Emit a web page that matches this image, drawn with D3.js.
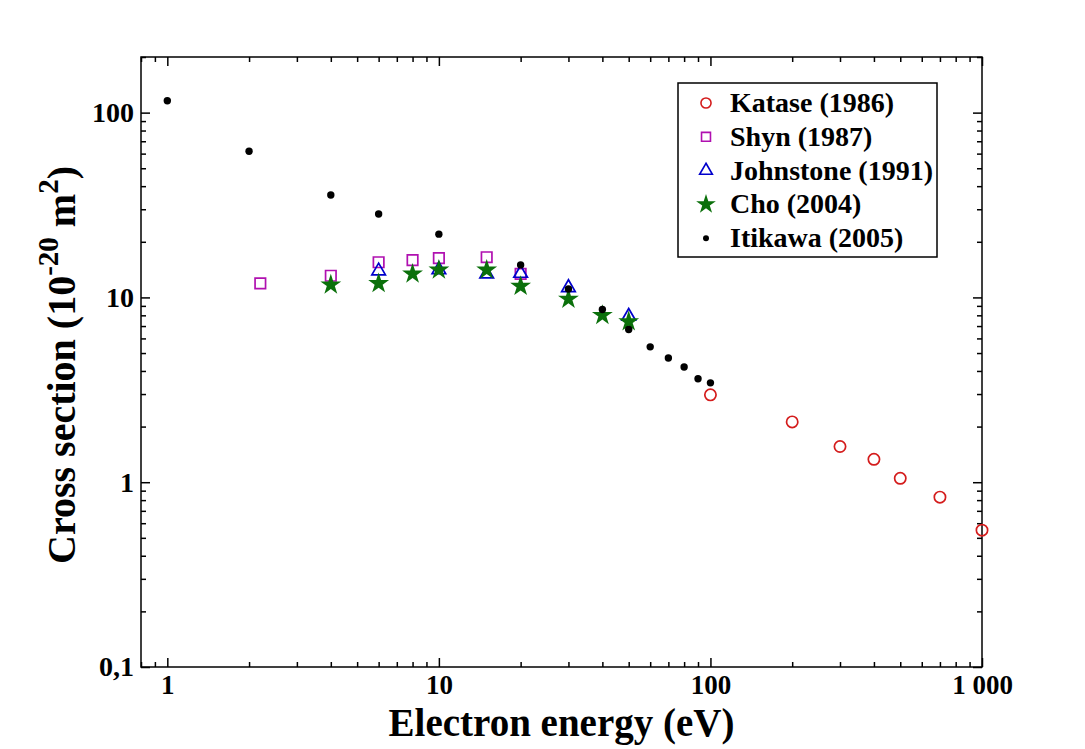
<!DOCTYPE html>
<html>
<head>
<meta charset="utf-8">
<script src="https://cdn.jsdelivr.net/npm/d3@7"></script>
<style>
  body { margin: 0; background: #fff; }
  text { font-family: "Liberation Serif", "Times New Roman", serif; font-weight: bold; }
</style>
</head>
<body>
<script>
// data (energy in eV, cross section in 1e-20 m2)
let katE = [100, 200, 300, 400, 500, 700, 1000];
let katQ = [2.97, 2.12, 1.56, 1.33, 1.05, 0.83, 0.55];

let shynE = [2.2, 4, 6, 8, 10, 15, 20];
let shynQ = [11.9, 13.1, 15.5, 15.9, 16.3, 16.5, 13.4];

let johnE = [6, 10, 15, 20, 30, 50];
let johnQ = [13.9, 14.1, 13.4, 13.5, 11.3, 7.9];

let choE = [4, 6, 8, 10, 15, 20, 30, 40, 50];
let choQ = [11.7, 11.9, 13.4, 14.1, 14.1, 11.5, 9.8, 8.0, 7.4];

let itiE = [1, 2, 4, 6, 10, 20, 30, 40, 50, 60, 70, 80, 90, 100];
let itiQ = [116, 61.8, 35.8, 28.3, 22.0, 15.0, 11.1, 8.6, 6.7, 5.4, 4.7, 4.2, 3.63, 3.45];

let seriesNames = ['Katase (1986)', 'Shyn (1987)', 'Johnstone (1991)', 'Cho (2004)', 'Itikawa (2005)'];

let xTicks = [1, 10, 100, 1000];
let xTickLabels = ['1', '10', '100', '1 000'];
let yTicks = [0.1, 1, 10, 100];
let yTickLabels = ['0,1', '1', '10', '100'];

let width = 1085;
let height = 749;
let margin = { left: 141, right: 103, top: 57, bottom: 82 };
let w = width - margin.left - margin.right;
let h = height - margin.top - margin.bottom;

let x = d3.scaleLog().domain([0.8, 1000]).range([0, w]);
let y = d3.scaleLog().domain([0.1, 200]).range([h, 0]);

let svg = d3.select('body').append('svg').attr('width', width).attr('height', height);
let g = svg.append('g').attr('transform', 'translate(' + margin.left + ',' + margin.top + ')');

// minor ticks: every 1..9 inside the domain, not on the decades
let xMinor = x.ticks().filter(function (d) { return xTicks.indexOf(d) < 0; });
let yMinor = y.ticks().filter(function (d) { return yTicks.indexOf(d) < 0; });

function drawAxis(gen, transform, values, size, labels) {
  let a = gen.tickValues(values).tickSize(size).tickSizeOuter(0)
    .tickFormat(function (d, i) { return labels ? labels[i] : ''; });
  let sel = g.append('g').attr('transform', transform).call(a);
  sel.select('.domain').remove();
  sel.selectAll('line').attr('stroke', '#000').attr('stroke-width', 1.5);
  return sel;
}

// major ticks with labels
let bx = drawAxis(d3.axisBottom(x).tickPadding(8), 'translate(0,' + h + ')', xTicks, -9, xTickLabels);
bx.selectAll('text').attr('font-size', 27).attr('fill', '#000');
let ly = drawAxis(d3.axisLeft(y).tickPadding(7), 'translate(0,0)', yTicks, -9, yTickLabels);
ly.selectAll('text').attr('font-size', 28).attr('fill', '#000');
drawAxis(d3.axisTop(x), 'translate(0,0)', xTicks, -9);
drawAxis(d3.axisRight(y), 'translate(' + w + ',0)', yTicks, -9);
// minor ticks
drawAxis(d3.axisBottom(x), 'translate(0,' + h + ')', xMinor, -5);
drawAxis(d3.axisTop(x), 'translate(0,0)', xMinor, -5);
drawAxis(d3.axisLeft(y), 'translate(0,0)', yMinor, -5);
drawAxis(d3.axisRight(y), 'translate(' + w + ',0)', yMinor, -5);

// frame
g.append('rect').attr('width', w).attr('height', h)
  .attr('fill', 'none').attr('stroke', '#000').attr('stroke-width', 1.5);

let red = '#d41c1c', magenta = '#b010b0', blue = '#0000cc', green = '#0b700b';

let circle = d3.symbol().type(d3.symbolCircle).size(100);
let square = d3.symbol().type(d3.symbolSquare).size(110);
let triangle = d3.symbol().type(d3.symbolTriangle).size(80);
let star = d3.symbol().type(d3.symbolStar).size(135);

function plotSymbols(xs, ys, path, fill, stroke) {
  g.append('g').selectAll('path').data(xs).join('path')
    .attr('transform', function (d, i) { return 'translate(' + x(d) + ',' + y(ys[i]) + ')'; })
    .attr('d', path)
    .attr('fill', fill)
    .attr('stroke', stroke)
    .attr('stroke-width', stroke === 'none' ? 0 : 1.7);
}

plotSymbols(katE, katQ, circle, 'none', red);
plotSymbols(shynE, shynQ, square, 'none', magenta);
plotSymbols(johnE, johnQ, triangle, 'none', blue);
plotSymbols(choE, choQ, star, green, 'none');

g.append('g').selectAll('circle').data(itiE).join('circle')
  .attr('cx', function (d) { return x(d); })
  .attr('cy', function (d, i) { return y(itiQ[i]); })
  .attr('r', 3.7)
  .attr('fill', '#000');

// legend
let legend = svg.append('g').attr('transform', 'translate(678,83)');
legend.append('rect').attr('width', 259).attr('height', 174)
  .attr('fill', '#fff').attr('stroke', '#000').attr('stroke-width', 1.5);

let legSyms = [
  { path: d3.symbol().type(d3.symbolCircle).size(80)(), fill: 'none', stroke: red },
  { path: d3.symbol().type(d3.symbolSquare).size(80)(), fill: 'none', stroke: magenta },
  { path: d3.symbol().type(d3.symbolTriangle).size(70)(), fill: 'none', stroke: blue },
  { path: d3.symbol().type(d3.symbolStar).size(120)(), fill: green, stroke: 'none' },
  { path: d3.symbol().type(d3.symbolCircle).size(28)(), fill: '#000', stroke: 'none' }
];

let rows = legend.selectAll('g.row').data(seriesNames).join('g')
  .attr('class', 'row')
  .attr('transform', function (d, i) { return 'translate(0,' + (20 + i * 33.8) + ')'; });

rows.append('path')
  .attr('transform', 'translate(28,0)')
  .attr('d', function (d, i) { return legSyms[i].path; })
  .attr('fill', function (d, i) { return legSyms[i].fill; })
  .attr('stroke', function (d, i) { return legSyms[i].stroke; })
  .attr('stroke-width', 1.6);

rows.append('text')
  .attr('x', 52)
  .attr('y', 9)
  .attr('font-size', 28)
  .text(function (d) { return d; });

// axis titles
svg.append('text')
  .attr('x', margin.left + w / 2)
  .attr('y', 736)
  .attr('text-anchor', 'middle')
  .attr('font-size', 39)
  .text('Electron energy (eV)');

let yt = svg.append('text')
  .attr('transform', 'translate(75,' + (margin.top + h / 2 + 3) + ') rotate(-90)')
  .attr('text-anchor', 'middle')
  .attr('font-size', 40);
yt.append('tspan').text('Cross section (10');
yt.append('tspan').attr('dy', -17).attr('font-size', 29).text('-20');
yt.append('tspan').attr('dy', 17).text(' m');
yt.append('tspan').attr('dy', -17).attr('font-size', 29).text('2');
yt.append('tspan').attr('dy', 17).text(')');
</script>
</body>
</html>
